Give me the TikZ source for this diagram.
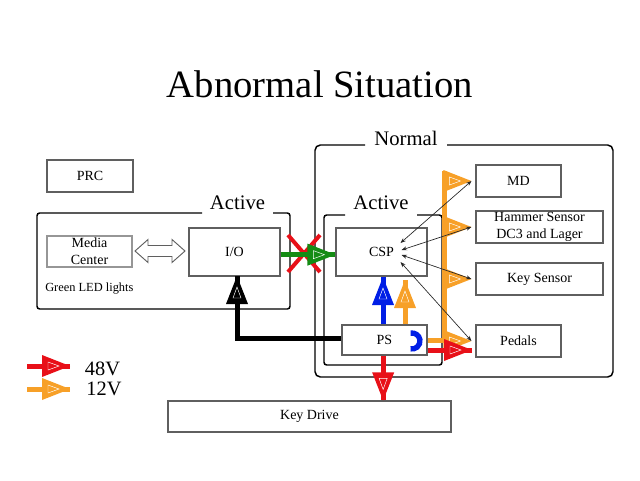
\documentclass[tikz,border=0pt]{standalone}
\usepackage{fontspec}
\setmainfont{Liberation Serif}
\usetikzlibrary{calc,arrows.meta}
\definecolor{redC}{RGB}{232,16,24}
\definecolor{orangeC}{RGB}{247,160,40}
\definecolor{greenC}{RGB}{20,140,20}
\definecolor{blueC}{RGB}{0,30,230}
\definecolor{boxgray}{RGB}{95,95,95}
\definecolor{lightgray}{RGB}{150,150,150}
\tikzset{
  box/.style={draw=boxgray, line width=0.8pt, fill=white, inner sep=0pt, align=center,
    font=\fontsize{10.5}{13}\selectfont},
  container/.style={draw=black, line width=1.1pt, rounded corners=2pt},
  biglabel/.style={font=\fontsize{15.5}{18}\selectfont, inner sep=0pt, anchor=base},
  fatline/.style={line width=3.75pt},
  thinarrow/.style={line width=0.5pt, draw=black!85, {Stealth[length=4pt,width=3pt]}-{Stealth[length=4pt,width=3pt]}},
  pics/fathead/.style={code={
    \fill[#1] (0,0) -- (-28,-11) -- (-28,11) -- cycle;
    \draw[white, line width=0.35pt] (-11,0) -- (-22,-4) -- (-22,4) -- cycle;
  }}
}
\begin{document}
\begin{tikzpicture}[x=0.75pt, y=-0.75pt]
\useasboundingbox (0,0) rectangle (640,480);

% title
\node[font=\fontsize{29}{35}\selectfont, inner sep=0pt, anchor=base] (title) at (320,97) {Abnormal Situation};

% containers
\draw[container] (202,213) -- (37,213) -- (37,309) -- (290,309) -- (290,213) -- (273,213);
\node[biglabel] (actL) at (237.5,209) {Active};
\draw[container, rounded corners=4pt] (365,145) -- (315,145) -- (315,377) -- (613,377) -- (613,145) -- (447,145);
\node[biglabel] (normal) at (406,145) {Normal};
\draw[container] (345,215) -- (324,215) -- (324,365) -- (442,365) -- (442,215) -- (417,215);
\node[biglabel] (actR) at (381,209) {Active};

% boxes
\node[box, minimum width=64.5pt, minimum height=24pt] (PRC) at (90,176) {PRC};
\node[box, draw=lightgray, minimum width=63.75pt, minimum height=23.25pt] (MC) at (89.5,251.5) {Media\\Center};
\node[box, minimum width=68.25pt, minimum height=36pt] (IO) at (234.5,252) {I/O};
\node[box, minimum width=68.25pt, minimum height=36pt] (CSP) at (381.5,252) {CSP};
\node[box, minimum width=63.75pt, minimum height=22.5pt] (PS) at (384.5,340) {PS};
\node[box, minimum width=63.75pt, minimum height=24pt] (MD) at (518.5,181) {MD};
\node[box, minimum width=95.25pt, minimum height=24pt] (HS) at (539.5,227) {Hammer Sensor\\DC3 and Lager};
\node[box, minimum width=95.25pt, minimum height=24pt] (KS) at (539.5,279) {Key Sensor};
\node[box, minimum width=63.75pt, minimum height=24pt] (PED) at (518.5,341) {Pedals};
\node[box, minimum width=212.25pt, minimum height=23.25pt] (KD) at (309.5,416.5) {Key Drive};

\node[font=\fontsize{9.3}{11}\selectfont, inner sep=0pt, anchor=base west] (led) at (45,291) {Green LED lights};

% double arrow between Media Center and I/O
\draw[draw=boxgray, fill=white, line width=0.7pt] (135,251) -- (148,239.5) -- (148,245.5) -- (172,245.5) -- (172,239.5) -- (185,251) -- (172,262.5) -- (172,256.5) -- (148,256.5) -- (148,262.5) -- cycle;

% black arrow PS -> I/O
\coordinate (blk) at (237,276);
\draw[fatline, black] ([yshift=1.5pt]PS.west) -| (blk);
\pic[rotate=90] at (blk) {fathead=black};

% red X
\draw[redC, line width=3pt] (288,235) -- (320,272) (320,235) -- (288,272);

% green arrow I/O -> CSP
\draw[fatline, greenC] ([yshift=-2pt]IO.east) -- ([yshift=-2pt]CSP.west);
\pic at ([yshift=-2pt]CSP.west) {fathead=greenC};

% blue and orange arrows PS -> CSP
\coordinate (bluetip) at (383,277);
\coordinate (oratip) at (405,280);
\draw[fatline, blueC] (PS.north -| bluetip) -- (bluetip);
\pic[rotate=90] at (bluetip) {fathead=blueC};
\draw[fatline, orangeC] (PS.north -| oratip) -- (oratip);
\pic[rotate=90] at (oratip) {fathead=orangeC};

% blue crescent in PS
\draw[blueC, line width=4pt] (410.6,333.1) arc[start angle=-100, end angle=100, radius=8];

% orange bus
\coordinate (busTop) at (444,171);
\draw[fatline, orangeC] (PS.east) -| (busTop);
\pic at ([xshift=-3pt]MD.west) {fathead=orangeC};
\pic at ([xshift=-3pt]HS.west) {fathead=orangeC};
\pic at ([xshift=-3pt]KS.west) {fathead=orangeC};
\pic at ([xshift=-3pt]PED.west) {fathead=orangeC};

% red arrow PS -> Pedals
\coordinate (redtip) at (472,350);
\draw[fatline, redC] ([yshift=-7.5pt]PS.east) -- (redtip);
\pic at (redtip) {fathead=redC};

% red arrow PS -> Key Drive
\draw[fatline, redC] ([xshift=-1pt]PS.south) -- ([xshift=-1pt]PS.south |- KD.north);
\pic[rotate=-90] at ([xshift=-1pt]PS.south |- KD.north) {fathead=redC};

% thin arrows CSP <-> sensors
\draw[thinarrow] ([shift={(19,-9)}]CSP.center) -- ([xshift=-3pt]MD.west);
\draw[thinarrow] ([shift={(20,-2)}]CSP.center) -- ([xshift=-3pt]HS.west);
\draw[thinarrow] ([shift={(20,3)}]CSP.center) -- ([xshift=-3pt]KS.west);
\draw[thinarrow] ([shift={(19,10)}]CSP.center) -- ([xshift=-3pt]PED.west);

% legend
\coordinate (l48s) at (27,366);
\coordinate (l48t) at (70,366);
\coordinate (l12s) at (27,389);
\coordinate (l12t) at (70,389);
\draw[fatline, redC] (l48s) -- (l48t);
\pic at (l48t) {fathead=redC};
\draw[fatline, orangeC] (l12s) -- (l12t);
\pic at (l12t) {fathead=orangeC};
\node[font=\fontsize{15.3}{18}\selectfont, inner sep=0pt, anchor=base] (t48) at (102.5,375) {48V};
\node[font=\fontsize{15.3}{18}\selectfont, inner sep=0pt, anchor=base] (t12) at (104,395) {12V};
\end{tikzpicture}
\end{document}
